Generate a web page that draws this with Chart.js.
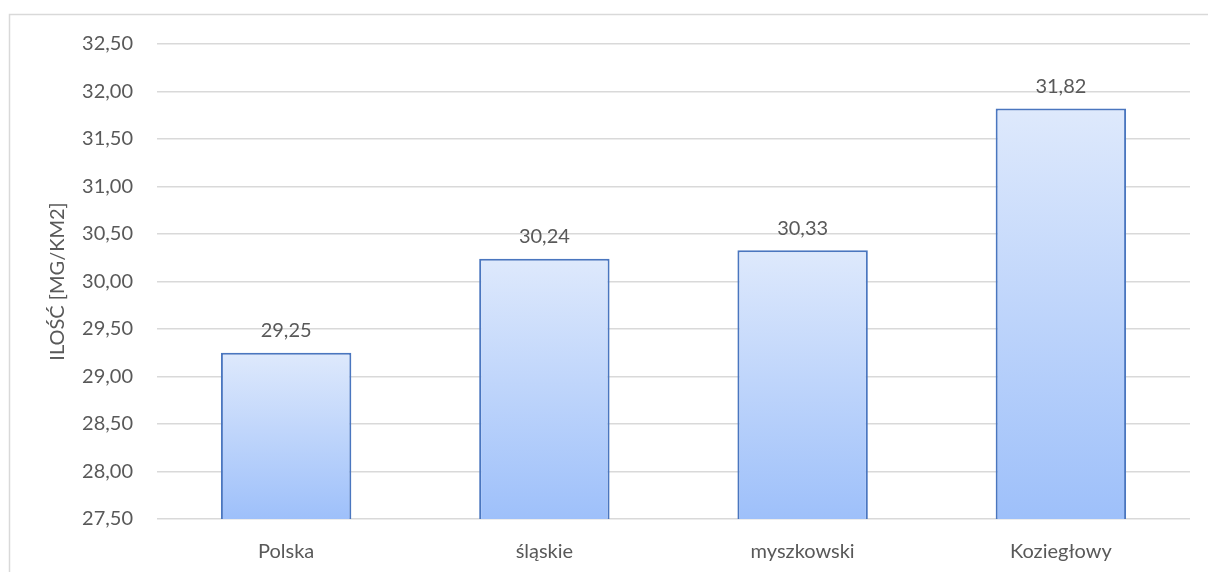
<!DOCTYPE html>
<html>
<head>
<meta charset="utf-8">
<script src="https://cdn.jsdelivr.net/npm/chart.js@4"></script>
<style>
html,body{margin:0;padding:0;background:#fff;}
#wrap{width:1208px;height:572px;position:relative;}
</style>
</head>
<body>
<div id="wrap"><canvas id="c" width="1208" height="572"></canvas></div>
<script>
const categories = ["Polska", "śląskie", "myszkowski", "Koziegłowy"];
const values = [29.25, 30.24, 30.33, 31.82];
const yMin = 27.5, yMax = 32.5, yStep = 0.5;
const yTitle = "ILOŚĆ [MG/KM2]";

const fmt = v => v.toFixed(2).replace('.', ',');
const FONT = "Lato";
const TXT = "#595959";

const framePlugin = {
  id: 'frame',
  beforeDraw(chart) {
    const ctx = chart.ctx;
    ctx.save();
    ctx.strokeStyle = '#d9d9d9';
    ctx.lineWidth = 1.5;
    ctx.strokeRect(9.5, 14.5, 1300, 700);
    ctx.restore();
  }
};

const labelPlugin = {
  id: 'valLabels',
  afterDatasetsDraw(chart) {
    const ctx = chart.ctx;
    const meta = chart.getDatasetMeta(0);
    ctx.save();
    ctx.font = "20px " + FONT;
    ctx.fillStyle = TXT;
    ctx.textAlign = 'center';
    ctx.textBaseline = 'middle';
    meta.data.forEach((el, i) => {
      ctx.fillText(fmt(values[i]), el.x, el.y - 22);
    });
    ctx.restore();
  }
};

function barGradient(context) {
  const chart = context.chart;
  const area = chart.chartArea;
  if (!area || context.dataIndex === undefined) return '#c4d8fa';
  const yScale = chart.scales.y;
  const top = yScale.getPixelForValue(values[context.dataIndex]);
  const g = chart.ctx.createLinearGradient(0, top, 0, area.bottom);
  g.addColorStop(0, '#dee9fc');
  g.addColorStop(1, '#9ec0fa');
  return g;
}

new Chart(document.getElementById('c'), {
  type: 'bar',
  data: {
    labels: categories,
    datasets: [{
      data: values,
      backgroundColor: barGradient,
      borderColor: '#4a76bf',
      borderWidth: 2,
      borderSkipped: false,
      categoryPercentage: 1.0,
      barPercentage: 0.505
    }]
  },
  options: {
    responsive: false,
    animation: false,
    devicePixelRatio: 1,
    layout: { padding: { left: 0, right: 18, top: 44, bottom: 0 } },
    plugins: { legend: { display: false }, tooltip: { enabled: false } },
    scales: {
      x: {
        grid: { display: false },
        border: { display: false },
        ticks: { color: TXT, font: { family: FONT, size: 20 }, padding: 13 },
        afterFit(s) { s.height = 53; }
      },
      y: {
        min: yMin, max: yMax,
        ticks: { stepSize: yStep, color: TXT, font: { family: FONT, size: 20 }, padding: 24, callback: v => fmt(v) },
        grid: { color: '#d9d9d9', lineWidth: 1.5, drawTicks: false },
        border: { display: false },
        title: { display: true, text: yTitle, color: TXT, font: { family: FONT, size: 20 }, padding: { top: 46, bottom: 0 } },
        afterFit(s) { s.width = 157; }
      }
    }
  },
  plugins: [framePlugin, labelPlugin]
});
</script>
</body>
</html>
